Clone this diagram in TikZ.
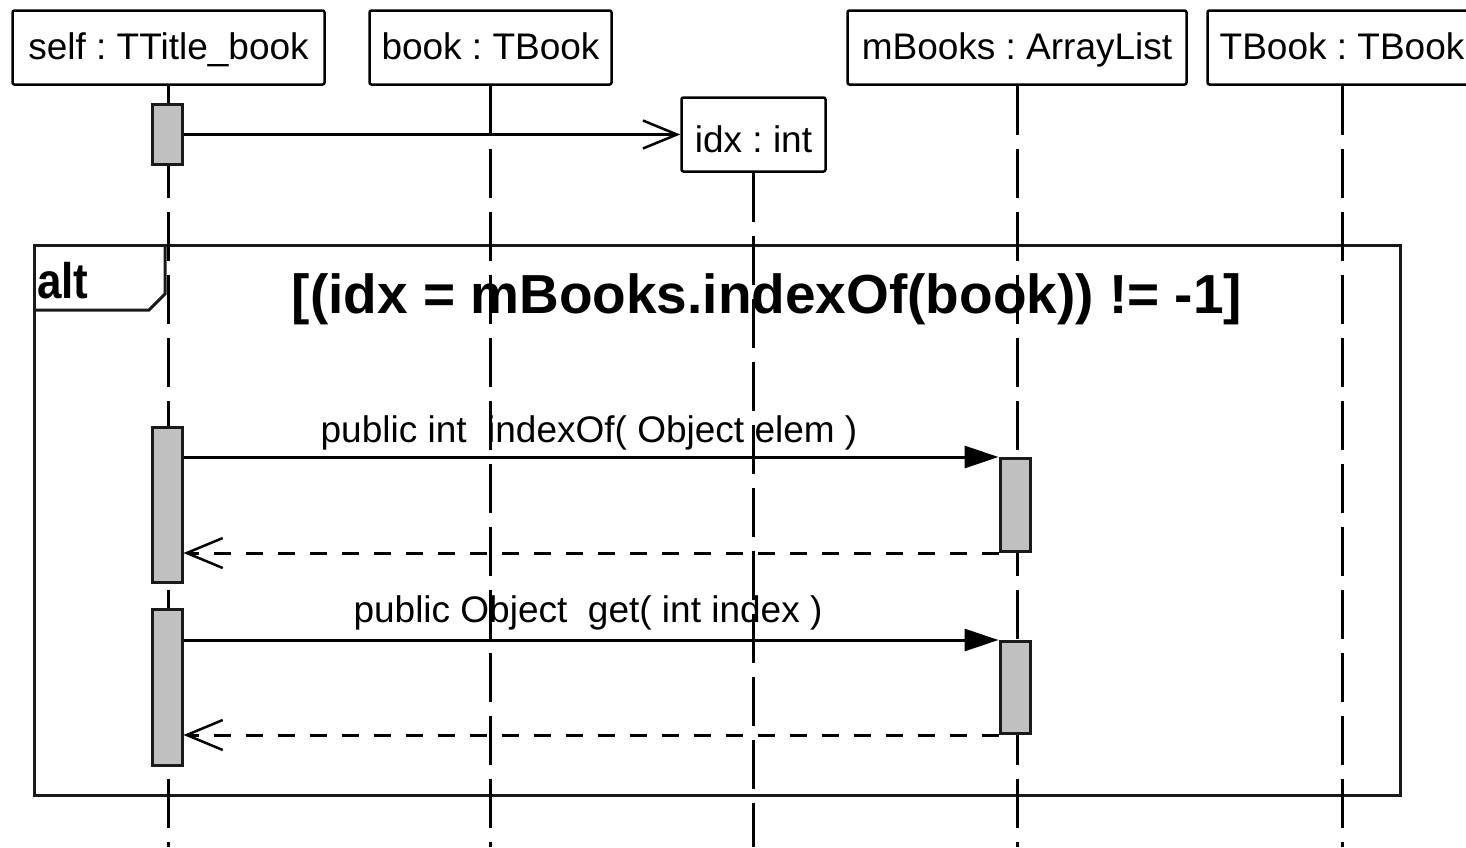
\documentclass[tikz,border=0pt]{standalone}
\usepackage{fontspec}
\setmainfont{Liberation Sans}
\usetikzlibrary{arrows.meta,calc}
\definecolor{actgray}{HTML}{C0C0C0}
\definecolor{framegray}{HTML}{1A1A1A}
\frenchspacing
\begin{document}
\frenchspacing
\begin{tikzpicture}[x=1pt,y=-1pt,
  obj/.style={draw=black, line width=2.5pt, rounded corners=2pt, inner sep=0pt, fill=white,
    font=\fontsize{37}{40}\selectfont, text height=23pt, text depth=0pt, minimum height=74pt},
  act/.style={draw=framegray, line width=3pt, fill=actgray, minimum width=30pt, inner sep=0pt},
  lifeline/.style={line width=3pt, dash pattern=on 49pt off 14pt},
  msg/.style={line width=3pt, -{Triangle[length=34pt,width=22pt]}},
  create/.style={line width=3pt, -{Straight Barb[length=34pt,width=28pt,line width=2.5pt]}},
  ret/.style={line width=3pt, dash pattern=on 17pt off 15pt, -{Straight Barb[length=36pt,width=30pt,line width=2.5pt]}},
  frame/.style={draw=framegray, line width=3pt},
  lbl/.style={font=\fontsize{37}{40}\selectfont, inner sep=0pt, anchor=base},
]
\useasboundingbox (0,0) rectangle (1466,847);
\coordinate (bot) at (0,847);
% object boxes
\node[obj, minimum width=312pt] (self) at (168.5,47.5) {self : TTitle\_book};
\node[obj, minimum width=242pt] (book) at (490.5,47.5) {book : TBook};
\node[obj, minimum width=144pt, text height=35pt] (idx) at (753.5,134.5) {idx : int};
\node[obj, minimum width=339pt] (mbooks) at (1017,47.5) {mBooks : ArrayList};
\node[obj, minimum width=269pt] (tbook) at (1342,47.5) {TBook : TBook};
% alt frame
\node[frame, minimum width=1366pt, minimum height=550pt, inner sep=0pt] (alt) at (717.5,520.5) {};
\draw[frame] ($(alt.north west)+(0,66)$) coordinate (tabA) -- ++(116,0) coordinate (tabB)
  -- ++(16,-16) coordinate (tabC) -- (tabC |- alt.north);
\node[inner sep=0pt, anchor=base west, font=\fontsize{50}{54}\selectfont\bfseries] (altlbl) at (37,298) {\scalebox{0.88}[1]{alt}};
\node[inner sep=0pt, anchor=base, font=\fontsize{55}{60}\selectfont\bfseries] (cond) at (767,313) {[(idx = mBooks.indexOf(book)) != -1]};
% message labels
\node[lbl] (l1) at (589,442) {public int\ \ indexOf( Object elem )};
\node[lbl] (l2) at (588,622) {public Object\ \ get( int index )};
% lifelines
\draw[lifeline] (self.south) -- (self.south |- bot);
\draw[lifeline] (book.south) -- (book.south |- bot);
\draw[lifeline] (idx.south) -- (idx.south |- bot);
\draw[lifeline] (mbooks.south) -- (mbooks.south |- bot);
\draw[lifeline] (tbook.south) -- (tbook.south |- bot);
% activations
\node[act, minimum height=60pt] (a1) at (167,134.5) {};
\node[act, minimum height=155pt] (a2) at (167,505) {};
\node[act, minimum height=156pt] (a3) at (167,687.5) {};
\node[act, minimum height=93pt] (m1) at (1015,505) {};
\node[act, minimum height=92pt] (m2) at (1015,687.5) {};
% messages
\draw[create] (a1.east |- idx.west) -- (idx.west);
\draw[msg] (a2.east |- m1.north) -- (m1.north west);
\draw[ret] (m1.south west) -- (a2.east |- m1.south);
\draw[msg] (a3.east |- m2.north) -- (m2.north west);
\draw[ret] (m2.south west) -- (a3.east |- m2.south);
\end{tikzpicture}
\end{document}
